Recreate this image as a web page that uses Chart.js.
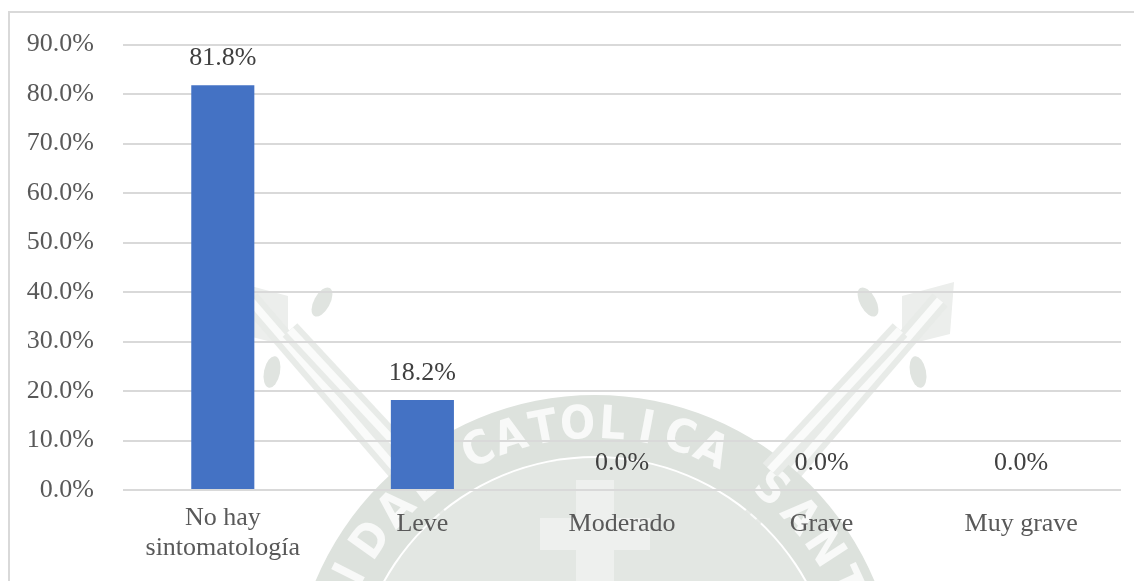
<!DOCTYPE html>
<html>
<head>
<meta charset="utf-8">
<script src="https://cdn.jsdelivr.net/npm/chart.js@4.4.1/dist/chart.umd.min.js"></script>
<style>
  html, body { margin: 0; padding: 0; background: #ffffff; }
  canvas { display: block; }
</style>
</head>
<body>
<canvas id="chart" width="1134" height="581"></canvas>
<script>
// Severity categories and their share of respondents (%)
const categories = [['No hay', 'sintomatología'], 'Leve', 'Moderado', 'Grave', 'Muy grave'];
const percentages = [81.8, 18.2, 0.0, 0.0, 0.0];
const yTickValues = [0, 10, 20, 30, 40, 50, 60, 70, 80, 90];

const FONT = "'Liberation Serif', 'Times New Roman', serif";
const pct = v => v.toFixed(1) + '%';

// Faint university seal in the background, plus the outer frame lines
const backdrop = {
  id: 'backdrop',
  beforeDraw(chart) {
    const ctx = chart.ctx;
    ctx.save();
    ctx.fillStyle = '#ffffff';
    ctx.fillRect(0, 0, chart.width, chart.height);

    const cx = 595, cy = 698;

    // staffs crossing behind the seal
    const staff = (x1, y1, x2, y2) => {
      ctx.lineCap = 'butt';
      ctx.strokeStyle = '#e8ebe8';
      ctx.lineWidth = 20;
      ctx.beginPath(); ctx.moveTo(x1, y1); ctx.lineTo(x2, y2); ctx.stroke();
      ctx.strokeStyle = '#fafbfa';
      ctx.lineWidth = 8;
      ctx.beginPath(); ctx.moveTo(x1, y1); ctx.lineTo(x2, y2); ctx.stroke();
    };

    // flags and tassels
    ctx.fillStyle = '#eceeec';
    ctx.beginPath();
    ctx.moveTo(236, 282); ctx.lineTo(288, 296); ctx.lineTo(288, 346); ctx.lineTo(240, 334);
    ctx.closePath(); ctx.fill();
    ctx.beginPath();
    ctx.moveTo(954, 282); ctx.lineTo(902, 296); ctx.lineTo(902, 346); ctx.lineTo(950, 334);
    ctx.closePath(); ctx.fill();

    ctx.fillStyle = '#e0e4e0';
    const oval = (x, y, a) => {
      ctx.beginPath(); ctx.ellipse(x, y, 8, 16, a, 0, Math.PI * 2); ctx.fill();
    };
    oval(322, 302, 0.5); oval(272, 372, 0.2);
    oval(868, 302, -0.5); oval(918, 372, -0.2);

    staff(250, 300, 560, 660);
    staff(940, 300, 630, 660);

    // inner shield
    ctx.fillStyle = '#e3e7e3';
    ctx.beginPath(); ctx.arc(cx, cy, 240, 0, Math.PI * 2); ctx.fill();

    // cross
    ctx.fillStyle = '#eef0ee';
    ctx.fillRect(576, 480, 38, 120);
    ctx.fillRect(540, 518, 110, 32);

    // ring band
    ctx.fillStyle = '#dde2dd';
    ctx.beginPath();
    ctx.arc(cx, cy, 303, 0, Math.PI * 2);
    ctx.arc(cx, cy, 242, 0, Math.PI * 2, true);
    ctx.fill();

    // lettering on the ring
    ctx.fillStyle = '#f8f9f8';
    ctx.font = "bold 46px 'DejaVu Sans Condensed', 'DejaVu Sans', sans-serif";
    ctx.textAlign = 'center';
    ctx.textBaseline = 'middle';
    const ringText = (txt, startDeg, stepDeg) => {
      for (let i = 0; i < txt.length; i++) {
        const a = (startDeg + i * stepDeg) * Math.PI / 180;
        ctx.save();
        ctx.translate(cx + Math.sin(a) * 272, cy - Math.cos(a) * 272);
        ctx.rotate(a);
        ctx.fillText(txt[i], 0, 0);
        ctx.restore();
      }
    };
    ringText('UNIVERSIDAD', -122, 8.4);
    ringText('CATOLICA', -25.2, 7.2);
    ringText('SANTA', 40, 8.4);

    staff(900, 330, 770, 470);
    staff(290, 330, 420, 470);

    // frame lines (top and left)
    ctx.strokeStyle = '#d9d9d9';
    ctx.lineWidth = 2;
    ctx.beginPath();
    ctx.moveTo(9, 581); ctx.lineTo(9, 12); ctx.lineTo(1134, 12);
    ctx.stroke();
    ctx.restore();
  }
};

// Value labels above each bar
const valueLabels = {
  id: 'valueLabels',
  afterDatasetsDraw(chart) {
    const ctx = chart.ctx;
    const meta = chart.getDatasetMeta(0);
    ctx.save();
    ctx.font = '26px ' + FONT;
    ctx.fillStyle = '#404040';
    ctx.textAlign = 'center';
    ctx.textBaseline = 'middle';
    meta.data.forEach((bar, i) => {
      ctx.fillText(pct(percentages[i]), bar.x, bar.y - 27);
    });
    ctx.restore();
  }
};

new Chart(document.getElementById('chart'), {
  type: 'bar',
  data: {
    labels: categories,
    datasets: [{
      data: percentages,
      backgroundColor: '#4472C4',
      borderWidth: 0,
      barPercentage: 0.316,
      categoryPercentage: 1.0
    }]
  },
  options: {
    responsive: false,
    animation: false,
    devicePixelRatio: 1,
    layout: { padding: { left: 10, right: 13, top: 42, bottom: 0 } },
    plugins: {
      legend: { display: false },
      tooltip: { enabled: false }
    },
    scales: {
      x: {
        grid: { display: false, drawTicks: false },
        border: { display: false },
        ticks: {
          padding: 13,
          color: '#595959',
          maxRotation: 0,
          autoSkip: false,
          font: (c) => ({
            family: FONT,
            size: 26,
            lineHeight: Array.isArray(categories[c.index]) ? 30 / 26 : 42 / 26
          })
        },
        afterFit: (s) => { s.height = 91; }
      },
      y: {
        min: 0,
        max: 90,
        afterBuildTicks: (s) => { s.ticks = yTickValues.map(v => ({ value: v })); },
        grid: { color: '#d9d9d9', lineWidth: 2, drawTicks: false },
        border: { display: false },
        ticks: {
          padding: 29,
          color: '#595959',
          font: { family: FONT, size: 26 },
          callback: (v) => pct(v)
        },
        afterFit: (s) => { s.width = 113; }
      }
    }
  },
  plugins: [backdrop, valueLabels]
});
</script>
</body>
</html>
